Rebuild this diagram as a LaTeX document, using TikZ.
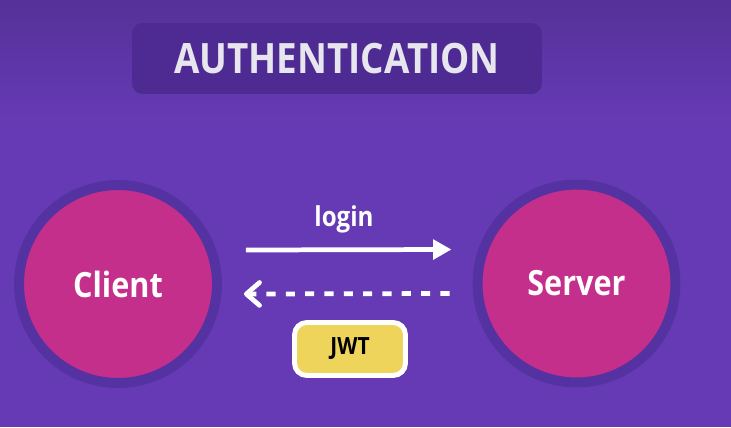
\documentclass[tikz,border=0pt]{standalone}
\usepackage{fontspec}
\setmainfont{Open Sans}
\newfontfamily\slimfont[FakeStretch=0.88]{Open Sans}
\usetikzlibrary{arrows.meta, positioning, calc}

\definecolor{bgpurple}{HTML}{663AB4}
\definecolor{bgtop}{HTML}{553199}
\definecolor{titlepurple}{HTML}{4E2B92}
\definecolor{ringpurple}{HTML}{5532A2}
\definecolor{peermagenta}{HTML}{C32F8A}
\definecolor{tokenyellow}{HTML}{EFD45B}
\definecolor{titlegrey}{HTML}{E7E5EE}

\begin{document}
\begin{tikzpicture}[x=0.02cm, y=-0.02cm,
    peer/.style={circle, fill=peermagenta, draw=ringpurple, line width=0.2cm,
        minimum size=3.96cm, text=white, font=\slimfont\bfseries\fontsize{19.8}{24}\selectfont},
    flow/.style={white, line width=2.7pt},
    banner/.style={fill=titlepurple, rounded corners=6pt, minimum width=8.2cm,
        minimum height=1.42cm, text=titlegrey, font=\slimfont\bfseries\fontsize{23.8}{28}\selectfont},
    token/.style={fill=tokenyellow, draw=white, line width=2.8pt, rounded corners=7pt,
        minimum width=2.22cm, minimum height=1.06cm, font=\slimfont\bfseries\fontsize{13.5}{16}\selectfont}]
    \useasboundingbox (0,0) rectangle (731,427);
    % Background
    \fill[bgpurple] (0,0) rectangle (731,427);
    \shade[top color=bgtop, bottom color=bgpurple] (0,0) rectangle (731,120);

    % Title
    \node[banner] (title) at (337,58.5) {AUTHENTICATION};

    % Client and server
    \node[peer] (client) at (118,284) {Client};
    \node[peer] (server) at (576.5,283.5) {Server};

    % Request
    \coordinate (loginstart) at ([shift={(24,-34)}]client.east);
    \coordinate (loginend) at ([shift={(-21,-34)}]server.west);
    \draw[flow, -{Triangle[length=10.5pt, width=11pt]}] (loginstart) -- (loginend);
    \node[text=white, font=\slimfont\bfseries\fontsize{15.6}{19}\selectfont] (login) at (344,219) {login};

    % Response with token
    \coordinate (replystart) at ([shift={(-23,10)}]server.west);
    \coordinate (replyend) at ([shift={(22,10)}]client.east);
    \draw[flow, dash pattern=on 5.2pt off 5.8pt,
        -{Straight Barb[length=7.5pt, width=13pt, line cap=round, line join=round]}] (replystart) -- (replyend);
    \node[token] (jwt) at (350,349) {JWT};
\end{tikzpicture}
\end{document}
